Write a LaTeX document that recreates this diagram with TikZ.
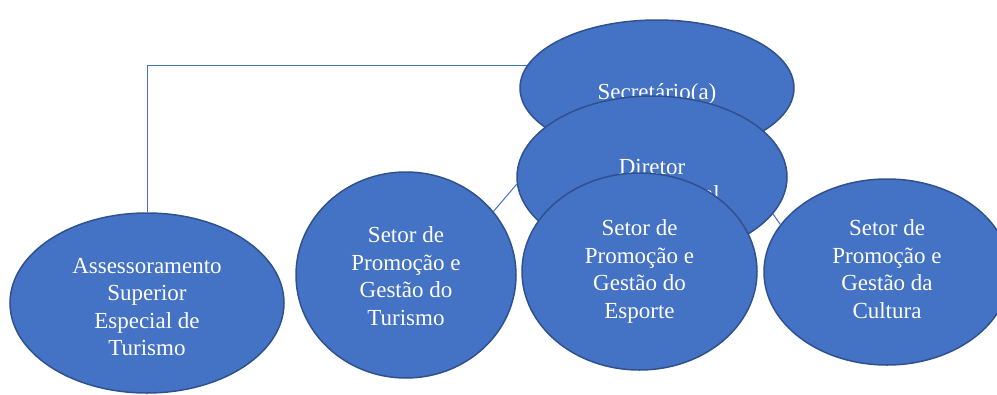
\documentclass[tikz,border=0pt]{standalone}
\usepackage{fontspec}
\setmainfont{Liberation Serif}
\usetikzlibrary{shapes.geometric,backgrounds}
\definecolor{ofblue}{HTML}{4472C4}
\definecolor{ofedge}{HTML}{2F528F}
\tikzset{
  ell/.style={ellipse, fill=ofblue, draw=ofedge, line width=1.5pt, inner sep=0pt},
  lbl/.style={text=white, align=center, inner sep=0pt, font=\fontsize{23}{27.6}\selectfont},
  link/.style={draw=ofblue, line width=1pt}
}
\begin{document}
\begin{tikzpicture}[x=1pt,y=-1pt]
\useasboundingbox (0,0) rectangle (997,394);
\node[ell, minimum width=274pt, minimum height=136pt] (sec) at (657,88) {};
\node[lbl] (sect) at ([yshift=-6pt]sec.center) {Secretário(a)};
\node[ell, minimum width=270pt, minimum height=162pt] (dir) at (652,177) {};
\node[lbl] (dirt) at ([yshift=-6pt]dir.center) {Diretor\\Departamental};
\node[ell, minimum width=235pt, minimum height=197pt] (esp) at (639.5,271.5) {};
\node[lbl] (espt) at ([yshift=0pt]esp.center) {Setor de\\Promoção e\\Gestão do\\Esporte};
\node[ell, minimum width=220pt, minimum height=206pt] (tur) at (406,275) {};
\node[lbl] (turt) at ([yshift=-1pt]tur.center) {Setor de\\Promoção e\\Gestão do\\Turismo};
\node[ell, minimum width=246pt, minimum height=186pt] (cul) at (887,272) {};
\node[lbl] (cult) at ([yshift=3pt]cul.center) {Setor de\\Promoção e\\Gestão da\\Cultura};
\node[ell, minimum width=274pt, minimum height=180pt] (ass) at (147,303) {};
\node[lbl] (asst) at ([yshift=-4pt]ass.center) {Assessoramento\\Superior\\Especial de\\Turismo};
\begin{scope}[on background layer]
\draw[link] (ass.north) |- (sec.170);
\draw[link] (dir.183) -- (tur.36);
\draw[link] (dir.343) -- (cul.156);
\end{scope}
\end{tikzpicture}
\end{document}
